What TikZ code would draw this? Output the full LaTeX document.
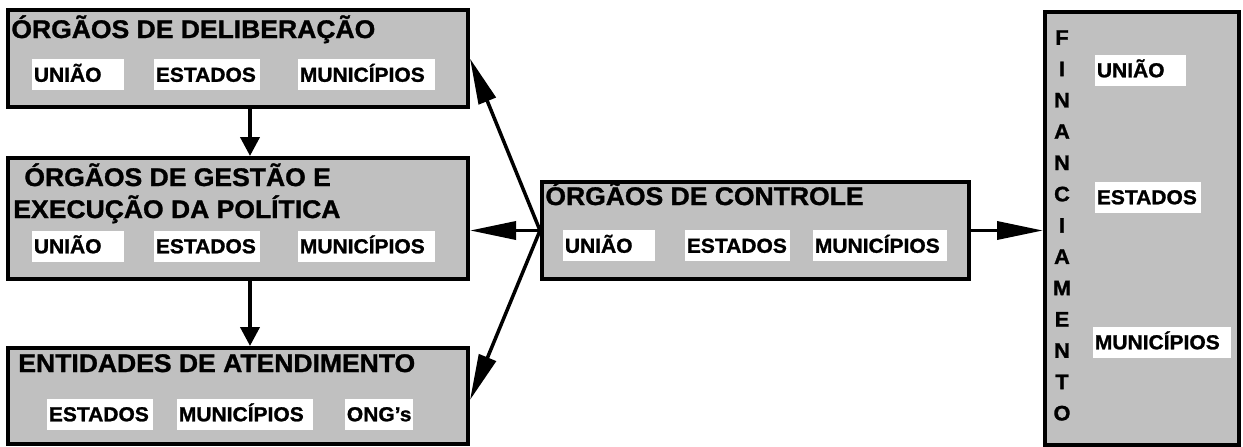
\documentclass[tikz,border=0pt]{standalone}
\usepackage{fontspec}
\setmainfont{Liberation Sans}[FakeStretch=1.04,FakeBold=1.2]
\usetikzlibrary{arrows.meta}

\definecolor{boxgray}{RGB}{192,192,192}
\newcommand\ttlfont{\fontsize{25.5}{28}\selectfont\bfseries}
\newcommand\lblfont{\fontsize{20.2}{22}\selectfont\bfseries}

\tikzset{every picture/.style={line width=0.75pt}}
\tikzset{
  panel/.style={draw, fill=boxgray, line width=4, inner sep=0},
  ttl/.style={anchor=base west, inner sep=0, font=\ttlfont},
  lbl/.style={fill=white, anchor=west, inner xsep=1.5pt, inner ysep=0pt,
    text height=14.5pt, text depth=0pt, minimum height=31,
    text width=#1, align=left, font=\lblfont},
  vflow/.style={line width=4, -{Triangle[length=19pt,width=19pt]}},
  sflow/.style={line width=3.5, -{Triangle[length=46pt,width=18pt]}},
}

\begin{document}
\begin{tikzpicture}[x=1pt,y=1pt,yscale=-1,xscale=1]
\useasboundingbox (0,0) rectangle (1243,447);

%Shape: Rectangle [id:delib]
\node [panel, minimum width=460, minimum height=97] (delib) at (238,58.5) {};
%Shape: Rectangle [id:gestao]
\node [panel, minimum width=460, minimum height=121] (gestao) at (238,218.5) {};
%Shape: Rectangle [id:atend]
\node [panel, minimum width=460, minimum height=96] (atend) at (238,396) {};
%Shape: Rectangle [id:controle]
\node [panel, minimum width=427, minimum height=97] (controle) at (755.5,230.5) {};
%Shape: Rectangle [id:financ]
\node [panel, minimum width=194, minimum height=433] (financ) at (1142,228.5) {};

% Text Node
\node [ttl] (tdelib) at (11,38) {ÓRGÃOS DE DELIBERAÇÃO};
% Text Node
\node [ttl] (tgestaoa) at (24,186) {ÓRGÃOS DE GESTÃO E};
% Text Node
\node [ttl] (tgestaob) at (13,218) {EXECUÇÃO DA POLÍTICA};
% Text Node
\node [ttl] (tatend) at (18,372) {ENTIDADES DE ATENDIMENTO};
% Text Node
\node [ttl] (tcontrole) at (545,205) {ÓRGÃOS DE CONTROLE};
% Text Node
\node [font=\fontsize{21}{31.3}\selectfont\bfseries, align=center, inner sep=0] (tfinanc) at (1062,225.5)
  {F\\I\\N\\A\\N\\C\\I\\A\\M\\E\\N\\T\\O};

% Labels: deliberacao
\node [lbl=89pt] (d1) at (32,74.5) {UNIÃO};
\node [lbl=103pt] (d2) at (154,74.5) {ESTADOS};
\node [lbl=134pt] (d3) at (298,74.5) {MUNICÍPIOS};
% Labels: gestao
\node [lbl=89pt] (g1) at (32,246) {UNIÃO};
\node [lbl=103pt] (g2) at (154,246) {ESTADOS};
\node [lbl=134pt] (g3) at (298,246) {MUNICÍPIOS};
% Labels: atendimento
\node [lbl=103pt] (a1) at (47,414) {ESTADOS};
\node [lbl=133pt] (a2) at (177,414) {MUNICÍPIOS};
\node [lbl=65pt] (a3) at (345,414) {ONG’s};
% Labels: controle
\node [lbl=89pt] (c1) at (563,245.5) {UNIÃO};
\node [lbl=102pt] (c2) at (685,245.5) {ESTADOS};
\node [lbl=131pt] (c3) at (813,245.5) {MUNICÍPIOS};
% Labels: financiamento
\node [lbl=88pt] (f1) at (1095,70) {UNIÃO};
\node [lbl=103pt] (f2) at (1095,197) {ESTADOS};
\node [lbl=135pt] (f3) at (1093,342) {MUNICÍPIOS};

%Straight Lines
\draw [vflow] ([xshift=12]delib.south) -- ([xshift=12]gestao.north);
\draw [vflow] ([xshift=12]gestao.south) -- ([xshift=12]atend.north);
\draw [sflow] (controle.west) -- (delib.east);
\draw [sflow] (controle.west) -- (controle.west -| gestao.east);
\draw [sflow] (controle.west) -- ([yshift=4]atend.east);
\draw [sflow] (controle.east) -- (controle.east -| financ.west);

\end{tikzpicture}
\end{document}
